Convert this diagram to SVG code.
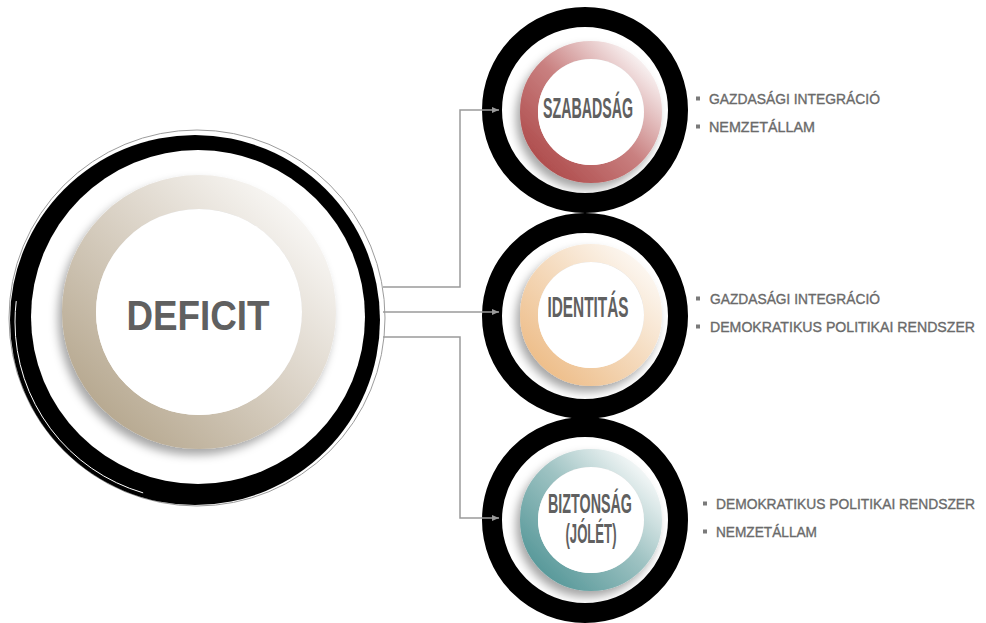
<svg xmlns="http://www.w3.org/2000/svg" width="986" height="623" viewBox="0 0 986 623">
<defs>
  <style>
    .blackring{fill:none;stroke:#000;stroke-width:20}
    .title{font-family:"Liberation Sans",Arial,sans-serif;font-weight:bold;fill:#606060;text-anchor:middle}
    .item{font-family:"Liberation Sans",Arial,sans-serif;font-size:14px;fill:#6a6a6a;stroke:#6a6a6a;stroke-width:0.35}
    .bullet{fill:#7a7a7a}
    .conn{fill:none;stroke:#9a9a9a;stroke-width:1.5}
  </style>
  <marker id="arrow" markerWidth="8" markerHeight="8" refX="7" refY="4" orient="auto" markerUnits="userSpaceOnUse">
    <path d="M0,1 L7,4 L0,7 Z" fill="#9a9a9a"/>
  </marker>
  <filter id="shadow" x="-30%" y="-30%" width="160%" height="160%">
    <feDropShadow dx="-4" dy="6" stdDeviation="5" flood-color="#000" flood-opacity="0.35"/>
  </filter>
  <linearGradient id="gBeige" x1="0.1" y1="0.9" x2="0.9" y2="0.1">
    <stop offset="0" stop-color="#b8aa92"/>
    <stop offset="0.55" stop-color="#dbd3c7"/>
    <stop offset="1" stop-color="#f7f5f2"/>
  </linearGradient>
  <linearGradient id="gRed" x1="0.1" y1="0.9" x2="0.9" y2="0.1">
    <stop offset="0" stop-color="#b04f4f"/>
    <stop offset="0.5" stop-color="#c98080"/>
    <stop offset="1" stop-color="#f7eeee"/>
  </linearGradient>
  <linearGradient id="gPeach" x1="0.1" y1="0.9" x2="0.9" y2="0.1">
    <stop offset="0" stop-color="#eebf8c"/>
    <stop offset="0.55" stop-color="#f5dcc0"/>
    <stop offset="1" stop-color="#fcf6ef"/>
  </linearGradient>
  <linearGradient id="gTeal" x1="0.1" y1="0.9" x2="0.9" y2="0.1">
    <stop offset="0" stop-color="#5a9a9b"/>
    <stop offset="0.55" stop-color="#9fc3c3"/>
    <stop offset="1" stop-color="#f0f5f5"/>
  </linearGradient>
</defs>
<rect width="986" height="623" fill="#fff"/>

<g id="node-deficit">
  <circle cx="197" cy="318" r="188" fill="none" stroke="#9c9c9c" stroke-width="1"/>
  <circle cx="195" cy="320" r="185" fill="#000"/>
  <circle cx="198" cy="317" r="167" fill="#fff"/>
  <circle cx="193" cy="322" r="178" fill="none" stroke="#fff" stroke-width="1" stroke-dasharray="0 330 250 600"/>
  <circle cx="199" cy="312" r="120" fill="none" stroke="url(#gBeige)" stroke-width="34" filter="url(#shadow)"/>
  <circle cx="199" cy="312" r="103" fill="#fff"/>
  <text class="title" x="198" y="330" font-size="42" textLength="143" lengthAdjust="spacingAndGlyphs" fill="#4d4d4d">DEFICIT</text>
</g>

<g id="node-szabadsag">
  <circle class="blackring" cx="585" cy="110" r="93"/>
  <circle cx="591" cy="112" r="62" fill="none" stroke="url(#gRed)" stroke-width="18" filter="url(#shadow)"/>
  <circle cx="591" cy="112" r="53" fill="#fff"/>
  <text class="title" x="588" y="118" font-size="29" textLength="90" lengthAdjust="spacingAndGlyphs">SZABADSÁG</text>
</g>

<g id="node-identitas">
  <circle class="blackring" cx="585" cy="316" r="93"/>
  <circle cx="591" cy="315" r="62" fill="none" stroke="url(#gPeach)" stroke-width="18" filter="url(#shadow)"/>
  <circle cx="591" cy="315" r="53" fill="#fff"/>
  <text class="title" x="588" y="317" font-size="29" textLength="81" lengthAdjust="spacingAndGlyphs">IDENTITÁS</text>
</g>

<g id="node-biztonsag">
  <circle class="blackring" cx="585" cy="520" r="93"/>
  <circle cx="591" cy="520" r="62" fill="none" stroke="url(#gTeal)" stroke-width="18" filter="url(#shadow)"/>
  <circle cx="591" cy="520" r="53" fill="#fff"/>
  <text class="title" x="590" y="513" font-size="28" textLength="84" lengthAdjust="spacingAndGlyphs">BIZTONSÁG</text>
  <text class="title" x="591" y="543" font-size="28" textLength="51" lengthAdjust="spacingAndGlyphs">(JÓLÉT)</text>
</g>

<g id="connectors">
  <path class="conn" d="M383,287 H460 V110 H499" marker-end="url(#arrow)"/>
  <path class="conn" d="M383,312 H499" marker-end="url(#arrow)"/>
  <path class="conn" d="M383,337 H460 V518 H499" marker-end="url(#arrow)"/>
</g>

<g id="list-szabadsag">
  <rect class="bullet" x="696" y="96.5" width="4" height="4"/>
  <text class="item" x="709" y="104" textLength="171" lengthAdjust="spacingAndGlyphs">GAZDASÁGI INTEGRÁCIÓ</text>
  <rect class="bullet" x="696" y="124.5" width="4" height="4"/>
  <text class="item" x="709" y="132" textLength="106" lengthAdjust="spacingAndGlyphs">NEMZETÁLLAM</text>
</g>

<g id="list-identitas">
  <rect class="bullet" x="696" y="296.5" width="4" height="4"/>
  <text class="item" x="710" y="304" textLength="170" lengthAdjust="spacingAndGlyphs">GAZDASÁGI INTEGRÁCIÓ</text>
  <rect class="bullet" x="696" y="324.5" width="4" height="4"/>
  <text class="item" x="710" y="332" textLength="265" lengthAdjust="spacingAndGlyphs">DEMOKRATIKUS POLITIKAI RENDSZER</text>
</g>

<g id="list-biztonsag">
  <rect class="bullet" x="703" y="501.5" width="4" height="4"/>
  <text class="item" x="716" y="509" textLength="259" lengthAdjust="spacingAndGlyphs">DEMOKRATIKUS POLITIKAI RENDSZER</text>
  <rect class="bullet" x="703" y="529.5" width="4" height="4"/>
  <text class="item" x="716" y="537" textLength="101" lengthAdjust="spacingAndGlyphs">NEMZETÁLLAM</text>
</g>
</svg>
